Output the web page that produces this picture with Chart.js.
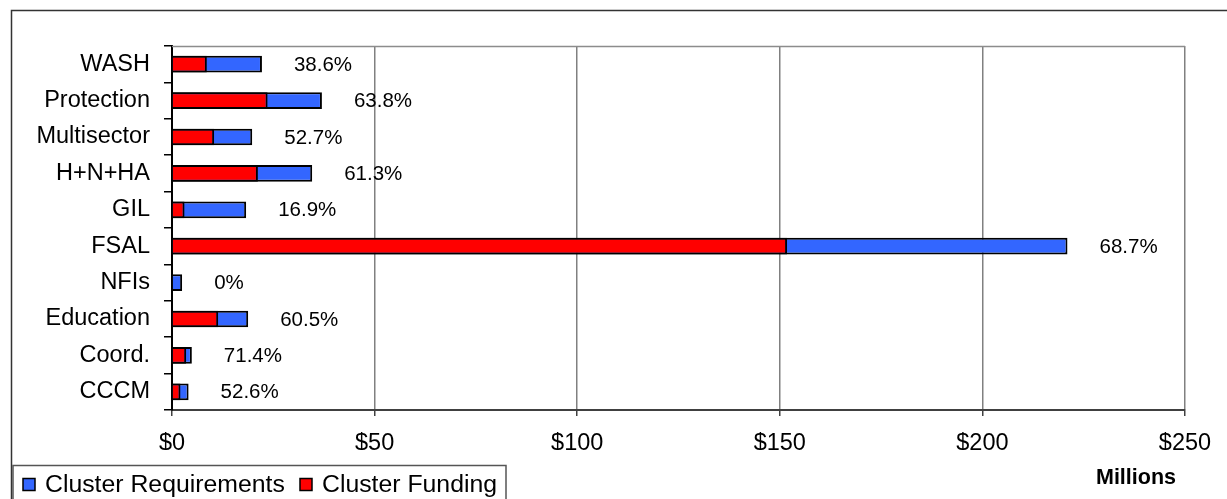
<!DOCTYPE html>
<html>
<head>
<meta charset="utf-8">
<script src="https://cdn.jsdelivr.net/npm/chart.js@4/dist/chart.umd.min.js"></script>
<style>
html,body{margin:0;padding:0;background:#fff;}
#wrap{position:relative;width:1227px;height:499px;}
</style>
</head>
<body>
<div id="wrap"><canvas id="c" width="1227" height="499"></canvas></div>
<script>
const categories = ["WASH","Protection","Multisector","H+N+HA","GIL","FSAL","NFIs","Education","Coord.","CCCM"];
const requirements = [22.2, 37.0, 19.8, 34.6, 18.3, 221.0, 2.5, 18.8, 4.9, 4.1];
const funding = [8.6, 23.6, 10.4, 21.2, 3.1, 151.8, 0, 11.4, 3.5, 2.1];
const pctLabels = ["38.6%","63.8%","52.7%","61.3%","16.9%","68.7%","0%","60.5%","71.4%","52.6%"];
const xTicks = [0, 50, 100, 150, 200, 250];

const FONT = '"Liberation Sans", Arial, sans-serif';

const extras = {
  id: 'extras',
  afterDraw(chart) {
    const ctx = chart.ctx, ca = chart.chartArea;
    const xs = chart.scales.x, ys = chart.scales.y;
    ctx.save();
    // top edge of plot area
    ctx.strokeStyle = '#8c8c8c';
    ctx.lineWidth = 1.5;
    ctx.beginPath();
    ctx.moveTo(ca.left, ca.top + 0.5);
    ctx.lineTo(ca.right, ca.top + 0.5);
    ctx.stroke();
    // percent labels
    ctx.fillStyle = '#000';
    ctx.font = '20.5px ' + FONT;
    ctx.textBaseline = 'middle';
    ctx.textAlign = 'left';
    categories.forEach((c, i) => {
      const x = xs.getPixelForValue(requirements[i]) + 32;
      const y = ys.getPixelForValue(i);
      ctx.fillText(pctLabels[i], x, y + 1);
    });
    // axis unit
    ctx.font = 'bold 21.5px ' + FONT;
    ctx.textAlign = 'center';
    ctx.fillText('Millions', 1136, 478);
    // outer frame
    ctx.strokeStyle = '#333';
    ctx.lineWidth = 1.5;
    ctx.strokeRect(11.5, 10.5, 1400, 600);
    // legend
    ctx.strokeStyle = '#555';
    ctx.lineWidth = 1.5;
    ctx.fillStyle = '#fff';
    ctx.fillRect(13, 465.5, 493, 40);
    ctx.strokeRect(13, 465.5, 493, 40);
    const items = [chart.data.datasets[1], chart.data.datasets[0]];
    const xsq = [23, 300];
    ctx.font = '24.8px ' + FONT;
    ctx.textAlign = 'left';
    ctx.textBaseline = 'middle';
    items.forEach((ds, k) => {
      ctx.fillStyle = ds.backgroundColor;
      ctx.fillRect(xsq[k], 478.5, 12, 12);
      ctx.strokeStyle = '#000';
      ctx.lineWidth = 1.5;
      ctx.strokeRect(xsq[k], 478.5, 12, 12);
      ctx.fillStyle = '#000';
      ctx.fillText(ds.label, xsq[k] + 22, 485);
    });
    ctx.restore();
  }
};

new Chart(document.getElementById('c'), {
  type: 'bar',
  data: {
    labels: categories,
    datasets: [
      { label: 'Cluster Funding', data: funding, backgroundColor: '#FF0000', borderColor: '#000', borderWidth: 2, grouped: false, barPercentage: 0.46, categoryPercentage: 1 },
      { label: 'Cluster Requirements', data: requirements, backgroundColor: '#3366FF', borderColor: '#000', borderWidth: 2, grouped: false, barPercentage: 0.46, categoryPercentage: 1 }
    ]
  },
  options: {
    indexAxis: 'y',
    responsive: false,
    animation: false,
    layout: { padding: { top: 46, right: 42, bottom: 49, left: 0 } },
    plugins: { legend: { display: false }, tooltip: { enabled: false } },
    scales: {
      x: {
        min: 0, max: 250,
        afterBuildTicks(scale) { scale.ticks = xTicks.map(v => ({ value: v })); },
        afterFit(scale) { scale.height = 40; },
        ticks: { color: '#000', font: { family: FONT, size: 23.5 }, padding: 13, maxRotation: 0, callback: v => '$' + v },
        grid: { color: '#808080', lineWidth: 1.5, tickLength: 6, tickColor: '#404040' },
        border: { color: '#404040', width: 2 }
      },
      y: {
        afterFit(scale) { scale.width = 172; },
        ticks: { color: '#000', font: { family: FONT, size: 23.5 }, padding: 14 },
        grid: { drawOnChartArea: false, offset: true, tickLength: 8, color: '#000', lineWidth: 1.5 },
        border: { color: '#000', width: 2 }
      }
    }
  },
  plugins: [extras]
});
</script>
</body>
</html>
